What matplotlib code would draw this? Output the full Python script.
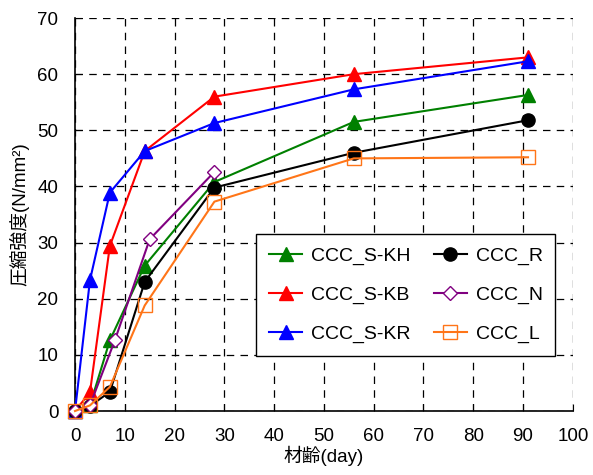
import matplotlib.pyplot as plt

plt.rcParams['font.family'] = ['Liberation Sans', 'Noto Sans CJK JP']

# 材齢 (day)
days = [0, 3, 7, 14, 28, 56, 91]
days_n = [0, 3, 8, 15, 28]

s_kh = [0, 1.0, 12.6, 25.9, 40.8, 51.5, 56.3]
s_kb = [0, 3.3, 29.4, 46.3, 56.0, 60.0, 63.0]
s_kr = [0, 23.3, 38.9, 46.3, 51.3, 57.3, 62.3]
ccc_r = [0, 0.9, 3.4, 23.0, 39.8, 46.0, 51.8]
ccc_n = [0, 1.0, 12.6, 30.6, 42.6]
ccc_l = [0, 1.0, 4.3, 18.8, 37.3, 45.0, 45.2]

fig = plt.figure(figsize=(5.93, 4.75), dpi=100)
ax = fig.add_axes([0.1265, 0.1347, 0.8395, 0.8273])

kw = dict(lw=1.5, zorder=3, clip_on=False)
ax.plot(days, s_kh, color='green', marker='^', ms=10, label='CCC_S-KH', **kw)
ax.plot(days, s_kb, color='red', marker='^', ms=10, label='CCC_S-KB', **kw)
ax.plot(days, s_kr, color='blue', marker='^', ms=10, label='CCC_S-KR', **kw)
ax.plot(days, ccc_r, color='black', marker='o', ms=9.5, label='CCC_R', **kw)
ax.plot(days_n, ccc_n, color='purple', marker='D', ms=7, mfc='white',
        label='CCC_N', **kw)
ax.plot(days, ccc_l, color='#ff7518', marker='s', ms=10, mfc='none',
        label='CCC_L', **kw)

ax.set_xlim(0, 100)
ax.set_ylim(0, 70)
ax.set_xticks(range(0, 101, 10))
ax.set_yticks(range(0, 71, 10))
ax.tick_params(direction='in', labelsize=13.5, length=5, pad=12)
ax.grid(True, color='black', linestyle=(0, (6, 5)), linewidth=0.9)
for side in ['top', 'right']:
    ax.spines[side].set_visible(False)
for side in ['left', 'bottom']:
    ax.spines[side].set_linewidth(1.2)

ax.set_xlabel('材齢(day)', fontsize=13.5, labelpad=1)
ax.set_ylabel('圧縮強度(N/mm²)', fontsize=13.5, labelpad=6)

leg = ax.legend(ncol=2, loc='lower right', bbox_to_anchor=(0.984, 0.116),
                fontsize=14, frameon=True, fancybox=False, framealpha=1,
                edgecolor='black', labelspacing=1.1, columnspacing=1.2,
                handlelength=1.7, handletextpad=0.45, borderpad=0.65)
leg.get_frame().set_linewidth(1.0)

fig.savefig('out.png', dpi=100)
